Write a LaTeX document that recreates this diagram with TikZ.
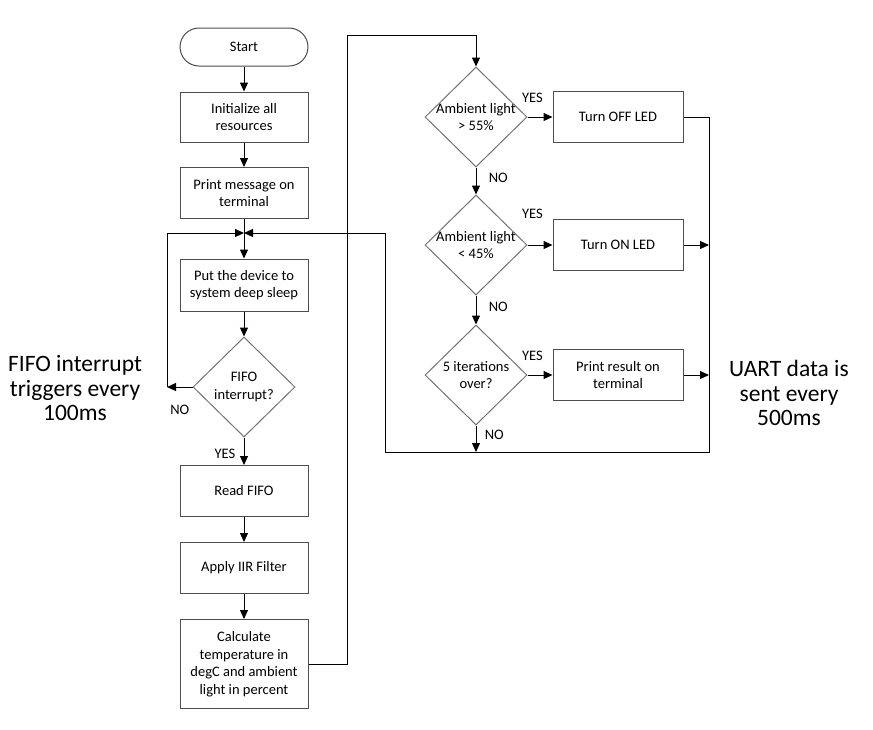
\documentclass[tikz,border=0pt]{standalone}
\usepackage{fontspec}
\setmainfont{Carlito}
\usepackage{tikz}
\usetikzlibrary{arrows.meta, shapes.geometric, calc}

\newcommand{\zl}[1]{\makebox[0pt]{#1}}

\begin{document}
\begin{tikzpicture}[x=1pt, y=-1pt,
    every node/.style={font=\fontsize{14.5}{17.5}\selectfont},
    bloco/.style={draw=black!70, line width=1pt, minimum width=128pt, minimum height=51pt, align=center, inner sep=2pt},
    blocoD/.style={bloco, minimum width=130pt},
    terminal/.style={bloco, minimum height=38pt, rounded corners=19pt},
    decisao/.style={diamond, draw=black!55, line width=1pt, minimum width=102pt, minimum height=100pt, align=center, inner sep=0pt},
    nota/.style={font=\fontsize{23.5}{24.5}\selectfont, align=center},
    seta/.style={-{Triangle[length=9pt, width=8pt]}, line width=1pt},
    linha/.style={line width=1pt}
  ]
    \useasboundingbox (0,0) rectangle (873,729);

    % coluna da esquerda
    \node[terminal] (ini) at (244,47) {Start};
    \node[bloco, minimum height=50pt] (a) at (244,117) {Initialize all\\resources};
    \node[bloco] (b) at (244,193) {Print message on\\terminal};
    \node[bloco, minimum height=52pt] (c) at (244,285) {Put the device to\\system deep sleep};
    \node[decisao] (d) at (244,387) {\zl{FIFO}\\\zl{interrupt?}};
    \node[bloco] (e) at (244,491) {Read FIFO};
    \node[bloco] (f) at (244,568) {Apply IIR Filter};
    \node[bloco, minimum height=89pt] (g) at (244,664) {Calculate\\temperature in\\degC and ambient\\light in percent};

    % coluna da direita
    \node[decisao] (h1) at (476,117) {\zl{Ambient light}\\\zl{> 55\%}};
    \node[decisao] (h2) at (476,245) {\zl{Ambient light}\\\zl{< 45\%}};
    \node[decisao] (h3) at (476,375) {\zl{5 iterations}\\\zl{over?}};
    \node[blocoD] (l1) at (618,117) {Turn OFF LED};
    \node[blocoD] (l2) at (618,245) {Turn ON LED};
    \node[blocoD] (l3) at (618,375) {Print result on\\terminal};

    \node[nota] (n1) at (75,388) {FIFO interrupt\\triggers every\\100ms};
    \node[nota] (n2) at (789,393) {UART data is\\sent every\\500ms};

    \coordinate (m) at (244,233);
    \coordinate (k) at (167,387);
    \coordinate (t) at (347,35);
    \coordinate (q1) at (709,452);
    \coordinate (q2) at (385,452);

    \draw[seta] (ini) -- (a);
    \draw[seta] (a) -- (b);
    \draw[seta] (b) -- (c);
    \draw[seta] (c) -- (d);
    \draw[seta] (d) -- (e) node[pos=0.6, left=5pt] {YES};
    \draw[seta] (e) -- (f);
    \draw[seta] (f) -- (g);
    \draw[seta] (d.west) -- (k) node[pos=0.5, below=14pt] {NO};
    \draw[seta] (k) |- (m);

    \draw[seta] (g.east) -| (t) -- (t -| h1) -- (h1.north);
    \draw[seta] (h1) -- (h2) node[pos=0.4, right=9pt] {NO};
    \draw[seta] (h2) -- (h3) node[pos=0.4, right=9pt] {NO};
    \draw[seta] (h3.south) -- (h3.south |- q1) node[pos=0.35, right=5pt] {NO};
    \draw[seta] (h1.east) -- (l1.west) node[pos=0.2, above=11pt] {YES};
    \draw[seta] (h2.east) -- (l2.west) node[pos=0.2, above=23pt] {YES};
    \draw[seta] (h3.east) -- (l3.west) node[pos=0.2, above=11pt] {YES};

    \draw[seta] (l1.east) -| (q1) -- (q2) |- (m);
    \draw[seta] (l2.east) -- (l2.east -| q1);
    \draw[seta] (l3.east) -- (l3.east -| q1);
  \end{tikzpicture}
\end{document}
